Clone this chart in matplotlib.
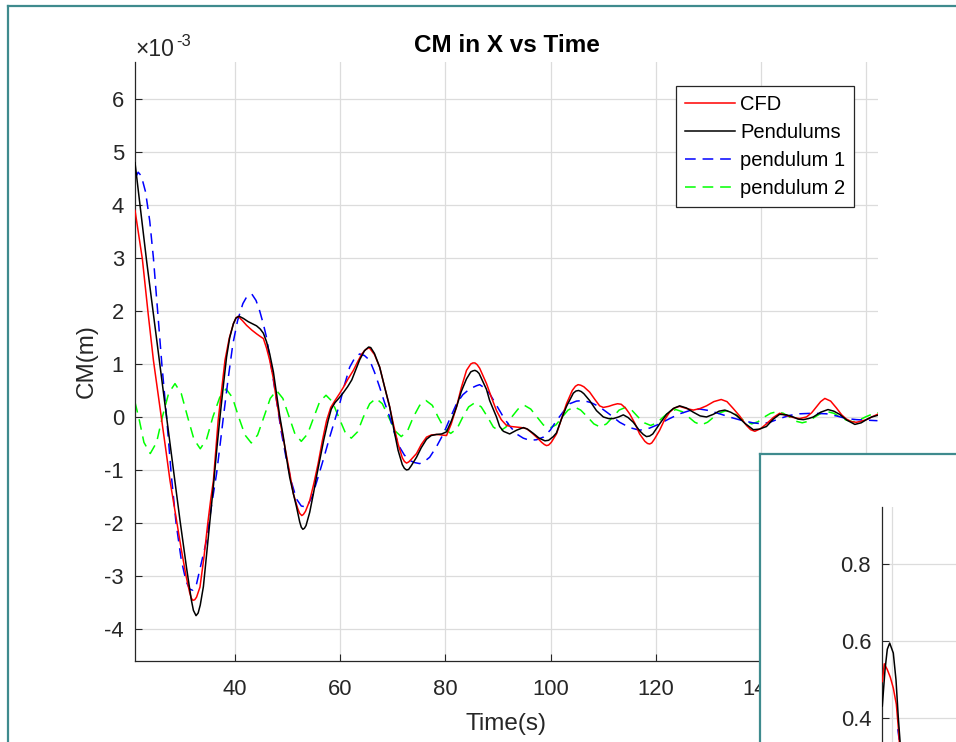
import numpy as np
import matplotlib
matplotlib.use("Agg")
import matplotlib.pyplot as plt
from matplotlib.ticker import FuncFormatter
from matplotlib.lines import Line2D

plt.rcParams['font.family'] = ['Liberation Sans', 'DejaVu Sans']
plt.rcParams['axes.unicode_minus'] = False

SCALE = 1e-3  # values below are read in units of 1e-3 m

# ---------------- data ----------------
cfd_t = [21.0, 22.4, 23.5, 24.5, 25.3, 26.1, 26.9, 27.65, 28.9, 29.8, 30.7, 31.4, 31.7, 32.0, 32.35, 32.7, 33.35,
         34.1, 34.9, 35.4, 35.9, 36.8, 37.5, 38.1, 38.9, 39.7, 40.2, 40.6, 41.4, 42.2, 43.2, 44.1,
         44.8, 45.4, 46.0, 46.6, 47.3, 47.9, 48.7, 49.5, 50.3, 51.1, 51.9, 52.3, 52.7, 53.0, 53.4, 54.2, 55.0,
         55.8, 56.6, 57.4, 58.2, 59.0, 59.8, 60.6, 61.5, 62.5, 63.3, 64.1, 64.8, 65.5, 66.5, 67.5,
         68.4, 69.4, 70.2, 71.0, 71.8, 72.2, 72.6, 73.0, 73.5, 74.5, 75.4, 76.4, 77.3, 78.3, 79.3, 80.2, 81.1,
         82.1, 83.0, 84.0, 84.8, 85.2, 85.6, 86.0, 86.5, 87.8, 88.7, 89.7, 90.6, 91.6, 92.5, 93.5, 94.4, 95.4,
         96.3, 97.3, 98.3, 98.8, 99.2, 99.6, 100.1, 101.1, 102.0, 103.0, 104.1, 104.7, 105.2, 105.7, 106.3, 107.4, 108.4, 109.3,
         110.0, 111.0, 111.9, 112.7, 113.4, 114.2, 115.0, 116.0, 116.9, 117.9, 118.4, 118.8, 119.2, 119.7, 120.7,
         121.6, 122.6, 123.5, 124.5, 125.8, 127.1, 128.4, 129.6, 131.0, 132.4, 133.5, 134.6, 135.9,
         137.2, 138.0, 138.8, 139.9, 141.0, 142.3, 143.5, 144.8, 146.1, 147.3, 148.6, 149.6, 150.5,
         151.3, 152.1, 153.2, 154.3, 155.3, 156.2, 157.2, 158.1, 159.0, 160.0, 161.0, 162.1]
cfd_v = [3.90, 2.98, 1.95, 1.07, 0.50, -0.07, -0.65, -1.20, -1.95, -2.50, -3.00, -3.32, -3.42, -3.46, -3.45, -3.40, -3.21,
         -2.65, -1.95, -1.55, -1.20, -0.07, 0.55, 1.07, 1.48, 1.76, 1.87, 1.90, 1.82, 1.73, 1.64, 1.57,
         1.52, 1.48, 1.30, 1.07, 0.72, 0.31, -0.15, -0.57, -1.00, -1.45, -1.72, -1.82, -1.86, -1.84, -1.78, -1.58, -1.25,
         -0.88, -0.45, -0.07, 0.18, 0.31, 0.43, 0.56, 0.72, 0.88, 1.04, 1.19, 1.27, 1.31, 1.18, 0.94,
         0.58, 0.19, -0.18, -0.51, -0.77, -0.84, -0.87, -0.85, -0.80, -0.69, -0.52, -0.38, -0.34, -0.33, -0.34, -0.35, -0.13,
         0.19, 0.55, 0.88, 1.00, 1.02, 1.02, 0.99, 0.92, 0.63, 0.38, 0.12, -0.05, -0.16, -0.18, -0.19, -0.20, -0.22,
         -0.29, -0.38, -0.48, -0.52, -0.54, -0.53, -0.48, -0.32, -0.05, 0.25, 0.50, 0.58, 0.61, 0.60, 0.57, 0.47, 0.33, 0.21,
         0.18, 0.20, 0.23, 0.25, 0.24, 0.17, 0.06, -0.12, -0.32, -0.46, -0.50, -0.51, -0.49, -0.42, -0.25,
         -0.06, 0.09, 0.17, 0.20, 0.16, 0.13, 0.16, 0.21, 0.29, 0.33, 0.29, 0.17, 0.02,
         -0.16, -0.24, -0.27, -0.22, -0.13, -0.01, 0.07, 0.03, -0.01, -0.03, 0.0, 0.08, 0.19,
         0.29, 0.35, 0.30, 0.17, 0.04, -0.04, -0.09, -0.10, -0.08, -0.05, 0.0, 0.05]

pend_t = [21.0, 22.0, 23.2, 25.0, 27.0, 28.5, 29.55, 30.8, 31.7, 32.1, 32.6, 33.0, 33.4, 34.0, 34.6, 35.25, 35.9,
          36.6, 37.15, 37.8, 38.4, 39.0, 39.7, 40.2, 40.8, 41.6, 42.5, 43.3, 44.1, 44.8, 45.4, 46.0,
          46.6, 47.3, 47.9, 48.5, 49.2, 49.8, 50.4, 51.1, 51.7, 52.3, 52.6, 52.9, 53.2, 53.5, 54.2, 54.9, 55.5,
          56.1, 56.9, 57.7, 58.3, 59.0, 59.8, 60.6, 61.4, 62.2, 63.0, 63.7, 64.6, 65.4, 65.8, 66.5,
          67.5, 68.4, 69.4, 70.2, 71.0, 71.8, 72.2, 72.6, 73.0, 73.5, 74.5, 75.4, 76.4, 77.3, 78.3, 79.3, 80.2,
          81.1, 82.1, 83.0, 84.0, 84.8, 85.2, 85.6, 86.0, 86.4, 87.8, 88.4, 89.7, 90.3, 91.0, 92.2, 93.5, 94.8,
          95.6, 96.7, 97.8, 98.9, 99.6, 100.5, 101.1, 102.0, 103.0, 104.3, 104.8, 105.3, 105.8, 106.3, 107.4, 108.7,
          110.0, 111.0, 111.9, 112.9, 113.8, 114.7, 115.7, 116.9, 117.6, 118.2, 118.8, 119.4, 120.7, 122.0, 123.3,
          124.5, 125.8, 127.1, 128.4, 129.6, 130.9, 132.0, 133.1, 134.2, 135.3, 136.9, 138.5, 139.6,
          141.0, 142.3, 143.5, 144.8, 146.1, 147.0, 148.0, 149.0, 149.9, 151.3, 152.7, 153.8, 154.9,
          156.3, 157.8, 159.0, 160.0, 161.0, 162.1]
pend_v = [4.80, 3.96, 2.95, 1.55, 0.00, -1.15, -1.95, -2.85, -3.45, -3.65, -3.75, -3.70, -3.55, -3.20, -2.60, -1.95, -1.30,
          -0.55, 0.00, 0.60, 1.13, 1.50, 1.76, 1.87, 1.90, 1.86, 1.80, 1.76, 1.72, 1.66, 1.58, 1.42,
          1.19, 0.85, 0.44, 0.02, -0.38, -0.78, -1.14, -1.45, -1.70, -1.98, -2.08, -2.12, -2.10, -2.05, -1.80, -1.45, -1.12,
          -0.82, -0.42, -0.07, 0.15, 0.27, 0.36, 0.46, 0.57, 0.70, 0.90, 1.08, 1.25, 1.32, 1.31, 1.20,
          0.94, 0.58, 0.19, -0.24, -0.63, -0.90, -0.97, -1.00, -0.99, -0.92, -0.76, -0.58, -0.42, -0.35, -0.33, -0.32, -0.28,
          -0.08, 0.19, 0.48, 0.72, 0.85, 0.87, 0.88, 0.86, 0.82, 0.52, 0.31, 0.00, -0.18, -0.27, -0.32, -0.25, -0.20,
          -0.23, -0.31, -0.40, -0.45, -0.44, -0.37, -0.30, -0.05, 0.20, 0.45, 0.49, 0.50, 0.48, 0.44, 0.31, 0.12,
          0.00, -0.03, -0.03, 0.00, 0.04, -0.01, -0.10, -0.26, -0.33, -0.37, -0.36, -0.32, -0.13, 0.05, 0.16,
          0.21, 0.17, 0.09, 0.02, 0.00, 0.05, 0.11, 0.13, 0.09, 0.03, -0.12, -0.24, -0.23,
          -0.18, -0.04, 0.05, 0.04, 0.00, -0.04, -0.05, -0.03, 0.00, 0.09, 0.14, 0.11, 0.05,
          -0.06, -0.14, -0.11, -0.05, 0.00, 0.03]

p1_t = [21.0, 21.6, 22.2, 23.0, 23.8, 24.5, 25.3, 26.1, 27.0, 27.9, 28.8, 29.8, 30.7, 31.4, 32.0,
        32.7, 33.5, 34.6, 35.5, 36.5, 37.2, 37.8, 38.7, 39.6, 40.5, 41.5, 42.3, 43.2, 44.0, 44.7,
        45.4, 46.0, 46.9, 47.9, 48.8, 49.8, 50.8, 51.7, 52.6, 53.6, 54.6, 55.6, 56.8, 58.0, 59.0,
        59.9, 60.8, 61.8, 62.8, 63.7, 64.6, 65.6, 66.5, 67.5, 68.4, 69.4, 70.3, 71.3, 72.2, 73.2,
        74.1, 75.1, 76.0, 77.0, 78.3, 79.6, 80.9, 82.1, 83.3, 84.6, 85.9, 86.5, 87.4, 88.4, 89.7,
        91.0, 92.2, 93.5, 94.8, 96.0, 97.3, 98.6, 99.9, 101.1, 102.4, 103.6, 104.9, 106.2, 107.7,
        109.3, 111.2, 113.1, 115.0, 116.9, 118.8, 120.7, 122.6, 124.5, 126.4, 128.3, 130.2, 132.1,
        134.3, 136.5, 138.4, 140.3, 141.9, 143.5, 145.4, 147.3, 149.8, 152.4, 154.3, 156.2, 158.1,
        160.0, 162.1]
p1_v = [4.50, 4.62, 4.55, 4.25, 3.70, 3.00, 2.00, 1.00, 0.00, -1.10, -2.00, -2.70, -3.10, -3.25, -3.27,
        -3.15, -2.80, -2.33, -1.70, -1.07, -0.50, 0.00, 0.72, 1.38, 1.82, 2.14, 2.28, 2.32, 2.20, 2.00,
        1.75, 1.50, 0.95, 0.31, -0.28, -0.82, -1.25, -1.55, -1.68, -1.70, -1.52, -1.20, -0.80, -0.38, -0.05,
        0.25, 0.60, 0.94, 1.12, 1.19, 1.16, 1.07, 0.85, 0.56, 0.28, 0.00, -0.30, -0.57, -0.72, -0.82,
        -0.86, -0.88, -0.84, -0.76, -0.56, -0.32, -0.02, 0.25, 0.42, 0.53, 0.59, 0.61, 0.55, 0.44, 0.22,
        0.00, -0.17, -0.32, -0.40, -0.44, -0.43, -0.38, -0.25, -0.07, 0.10, 0.25, 0.30, 0.31, 0.27,
        0.19, 0.05, -0.10, -0.20, -0.25, -0.21, -0.13, -0.03, 0.06, 0.12, 0.15, 0.12, 0.06,
        -0.01, -0.07, -0.11, -0.13, -0.09, -0.03, 0.03, 0.06, 0.07, 0.06, 0.02, -0.03, -0.05,
        -0.06, -0.07]

p2_t = [21.0, 21.8, 22.7, 23.9, 25.1, 26.2, 27.4, 28.6, 29.8, 31.0, 32.2, 33.4, 34.6, 35.8, 37.1,
        38.3, 39.5, 40.7, 41.9, 43.1, 44.3, 45.5, 46.7, 47.9, 49.1, 50.3, 51.4, 52.6, 53.8, 55.0,
        56.1, 57.3, 58.5, 59.7, 60.9, 62.1, 63.3, 64.4, 65.6, 66.8, 68.0, 69.2, 70.4, 71.6, 72.8,
        73.9, 75.1, 76.3, 77.5, 78.6, 79.8, 81.0, 82.2, 83.3, 84.4, 85.6, 86.8, 88.0, 89.1, 90.3,
        91.5, 92.6, 93.8, 95.0, 96.2, 97.4, 98.6, 99.8, 101.0, 102.2, 103.3, 104.5, 105.7, 107.0,
        108.2, 109.4, 110.6, 111.8, 113.0, 114.2, 115.4, 116.6, 117.8, 119.0, 120.2, 121.4, 122.6,
        123.8, 125.0, 126.2, 127.4, 128.6, 129.8, 131.0, 132.2, 133.4, 134.6, 135.8, 137.0, 138.2,
        139.4, 140.6, 141.8, 143.0, 144.2, 145.4, 146.6, 147.8, 149.0, 150.2, 151.4, 152.6, 153.8,
        155.0, 156.2, 157.4, 158.6, 159.8, 161.0, 162.2]
p2_v = [0.28, -0.05, -0.48, -0.69, -0.48, 0.00, 0.45, 0.63, 0.44, 0.00, -0.42, -0.60, -0.42, 0.00, 0.37,
        0.53, 0.37, 0.00, -0.34, -0.49, -0.34, 0.00, 0.35, 0.50, 0.35, 0.00, -0.32, -0.46, -0.32, 0.00,
        0.29, 0.41, 0.29, 0.00, -0.28, -0.40, -0.28, 0.00, 0.25, 0.35, 0.25, 0.00, -0.26, -0.37, -0.26,
        0.00, 0.22, 0.31, 0.22, 0.00, -0.22, -0.31, -0.22, 0.00, 0.19, 0.27, 0.19, 0.00, -0.19, -0.27,
        -0.19, 0.00, 0.15, 0.22, 0.15, 0.00, -0.15, -0.21, -0.15, 0.00, 0.13, 0.19, 0.13, 0.00,
        -0.13, -0.19, -0.13, 0.00, 0.13, 0.18, 0.13, 0.00, -0.11, -0.16, -0.11, 0.00, 0.10,
        0.14, 0.10, 0.00, -0.10, -0.15, -0.10, 0.00, 0.08, 0.12, 0.08, 0.00, -0.09, -0.13,
        -0.09, 0.00, 0.07, 0.10, 0.07, 0.00, -0.08, -0.11, -0.08, 0.00, 0.07, 0.10, 0.07,
        0.00, -0.06, -0.09, -0.06, 0.00, 0.05, 0.08]

# inset (second, partly visible figure panel)
inset_t = [0.0, 0.2, 0.5, 0.8, 1.1, 1.4, 1.6, 1.8, 2.1, 2.5]
inset_cfd = [0.494, 0.540, 0.525, 0.505, 0.477, 0.435, 0.375, 0.300, 0.170, 0.000]
inset_pend_t = [0.0, 0.27, 0.5, 0.74, 1.1, 1.37, 1.6, 1.77, 2.1, 2.5]
inset_pend = [0.430, 0.524, 0.578, 0.594, 0.568, 0.498, 0.400, 0.340, 0.180, 0.000]
inset_p1_t = [1.55, 1.75, 2.0, 2.4]
inset_p1 = [0.370, 0.330, 0.220, 0.050]

labels = ['CFD', 'Pendulums', 'pendulum 1', 'pendulum 2']
xticks = [40, 60, 80, 100, 120, 140, 160]
yticks = [-4, -3, -2, -1, 0, 1, 2, 3, 4, 5, 6]
inset_yticks = [0.4, 0.6, 0.8]

# ---------------- figure ----------------
W, H = 956, 742
fig = plt.figure(figsize=(W / 100, H / 100), dpi=100)
fig.patch.set_facecolor('white')

TEAL = '#3f8b8e'
AXC = '#262626'
GRIDC = '#dcdcdc'

def fx(px):
    return px / W

def fy(py):
    return 1 - py / H

# outer frame of the screenshot
fig.add_artist(Line2D([fx(7.5), fx(7.5)], [fy(6), -0.1], color=TEAL, lw=1.6,
                      transform=fig.transFigure))
fig.add_artist(Line2D([fx(7.5), 1.1], [fy(6), fy(6)], color=TEAL, lw=1.6,
                      transform=fig.transFigure))

ax_l, ax_r, ax_t, ax_b = 135, 878, 62, 660.7
ax = fig.add_axes([fx(ax_l), fy(ax_b), fx(ax_r) - fx(ax_l), fy(ax_t) - fy(ax_b)])

dash = (7, 4.5)
ax.plot(cfd_t, np.array(cfd_v) * SCALE, color='#ff0000', lw=1.1, label=labels[0], zorder=3)
ax.plot(pend_t, np.array(pend_v) * SCALE, color='black', lw=1.1, label=labels[1], zorder=4)
ax.plot(p1_t, np.array(p1_v) * SCALE, color='#0000ff', lw=1.1, dashes=dash, label=labels[2], zorder=2)
ax.plot(p2_t, np.array(p2_v) * SCALE, color='#00ff00', lw=1.1, dashes=dash, label=labels[3], zorder=1)

ax.set_xlim(21.0, 162.2)
ax.set_ylim(-4.6e-3, 6.7e-3)
ax.set_xticks(xticks)
ax.set_yticks([v * SCALE for v in yticks])
ax.yaxis.set_major_formatter(FuncFormatter(lambda v, p: f"{int(round(v / SCALE))}"))
ax.xaxis.set_major_formatter(FuncFormatter(lambda v, p: f"{int(round(v))}"))

for s in ['top', 'right']:
    ax.spines[s].set_visible(False)
for s in ['left', 'bottom']:
    ax.spines[s].set_color(AXC)
    ax.spines[s].set_linewidth(0.9)

ax.tick_params(axis='both', direction='in', length=5, width=0.8, color=AXC,
               labelsize=15.8, labelcolor=AXC)
ax.tick_params(axis='y', pad=8)
ax.tick_params(axis='x', pad=13.5)
ax.grid(True, color=GRIDC, lw=0.9)
ax.set_axisbelow(True)

ax.set_title('CM in X vs Time', fontsize=17.5, fontweight='bold', pad=7)
ax.set_xlabel('Time(s)', fontsize=17.5, color=AXC, labelpad=9)
ax.set_ylabel('CM(m)', fontsize=17.5, color=AXC, labelpad=5)

# exponent label
fig.text(fx(135), fy(56), '\u00d710', fontsize=16.5, color=AXC, ha='left', va='baseline')
fig.text(fx(176), fy(46.5), '-3', fontsize=12, color=AXC, ha='left', va='baseline')

leg = ax.legend(loc='upper right', bbox_to_anchor=(fx(854.3), fy(86)),
                bbox_transform=fig.transFigure, borderaxespad=0, fontsize=14.5,
                handlelength=2.5, handletextpad=0.25, labelspacing=0.45, borderpad=0.45,
                fancybox=False, framealpha=1, edgecolor=AXC)
leg.get_frame().set_linewidth(0.9)

# ---------------- inset panel (partly outside the picture) ----------------
box_l, box_t = 759.5, 454
box = fig.add_axes([fx(box_l), -0.3, 0.4, fy(box_t) + 0.3])
box.set_facecolor('white')
box.set_xticks([])
box.set_yticks([])
for s in ['right', 'bottom']:
    box.spines[s].set_visible(False)
for s in ['left', 'top']:
    box.spines[s].set_color(TEAL)
    box.spines[s].set_linewidth(1.6)

in_l, in_t = 882.3, 506.7
inset_w_px = 286.8
ia = fig.add_axes([fx(in_l), -0.3, inset_w_px / W, fy(in_t) + 0.3])
ia.plot(inset_t, inset_cfd, color='#ff0000', lw=1.1, zorder=3)
ia.plot(inset_pend_t, inset_pend, color='black', lw=1.1, zorder=4)
ia.plot(inset_p1_t, inset_p1, color='#0000ff', lw=1.1, dashes=dash, zorder=2)
ia.set_xlim(0, inset_w_px / 10)
ia.set_ylim(-0.243, 0.949)
ia.set_xticks([1])
ia.set_yticks(inset_yticks)
ia.yaxis.set_major_formatter(FuncFormatter(lambda v, p: f"{v:g}"))
ia.set_xticklabels([])
for s in ['top', 'right', 'bottom']:
    ia.spines[s].set_visible(False)
ia.spines['left'].set_color(AXC)
ia.spines['left'].set_linewidth(0.9)
ia.tick_params(axis='both', direction='in', length=5, width=0.8, color=AXC,
               labelsize=15.8, labelcolor=AXC)
ia.tick_params(axis='y', pad=8)
ia.grid(True, color=GRIDC, lw=0.9)
ia.set_axisbelow(True)

fig.savefig('out.png', dpi=100)
